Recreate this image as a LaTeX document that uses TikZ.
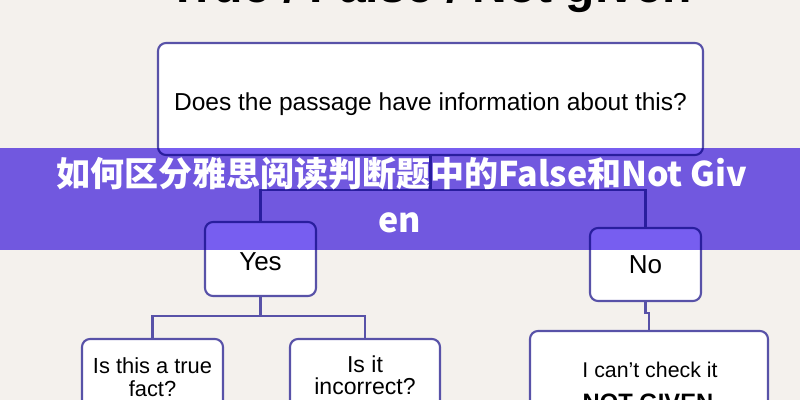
\documentclass[tikz,border=0pt]{standalone}
\usepackage{fontspec}
\setmainfont{Liberation Sans}
\newfontfamily\cjk{Noto Sans CJK SC}
\usetikzlibrary{fit}
\definecolor{bgc}{HTML}{F4F1ED}
\definecolor{linec}{HTML}{5852A8}
\definecolor{bannerc}{HTML}{775EF0}
\begin{document}
\begin{tikzpicture}[x=0.75pt,y=-0.75pt,
  box/.style={draw=linec, line width=1.6pt, rounded corners=6pt, fill=white, inner sep=0pt},
  conn/.style={draw=linec, line width=1.6pt},
  lbl/.style={text=black, inner sep=0pt, anchor=base}]
\useasboundingbox (0,0) rectangle (800,400);
\clip (0,0) rectangle (800,400);
\fill[bgc] (0,0) rectangle (800,400);
% title (cut off at top)
\node[lbl, font=\bfseries\fontsize{36}{40}\selectfont] (title) at (430,2.5) {True / False / Not given};
% boxes
\node[box, fit={(158,43) (703,155)}] (main) {};
\node[box, fit={(205,222) (316,296)}] (yes) {};
\node[box, fit={(590,228) (701,301)}] (no) {};
\node[box, fit={(82,339) (223,440)}] (a) {};
\node[box, fit={(290,339) (440,440)}] (b) {};
\node[box, fit={(530,331) (768,440)}] (c) {};
% connectors
\coordinate (j1) at (430.5,190);
\draw[conn] (main.south) -- (j1);
\draw[conn] (yes.north) |- (j1) -| (no.north);
\coordinate (j2) at (260.5,316);
\draw[conn] (yes.south) -- (j2);
\draw[conn] (a.north) |- (j2) -| (b.north);
\coordinate (j3) at (645.5,313);
\draw[conn] (no.south) -- (j3) -| (c.north);
% texts
\node[lbl, font=\fontsize{18.4}{22}\selectfont] (maint) at (430.5,110) {Does the passage have information about this?};
\node[lbl, font=\fontsize{19.5}{22}\selectfont] (yest) at (260.5,270) {Yes};
\node[lbl, font=\fontsize{19.5}{22}\selectfont] (not) at (645.5,273) {No};
\node[lbl, font=\fontsize{16.4}{20}\selectfont] (at1) at (152.5,373) {Is this a true};
\node[lbl, font=\fontsize{16.4}{20}\selectfont] (at2) at (152.5,396) {fact?};
\node[lbl, font=\fontsize{17.3}{20}\selectfont] (bt1) at (365,372) {Is it};
\node[lbl, font=\fontsize{17.3}{20}\selectfont] (bt2) at (365,394) {incorrect?};
\node[lbl, font=\fontsize{16}{20}\selectfont] (ct1) at (650,377) {I can’t check it};
\node[lbl, font=\bfseries\fontsize{17.8}{20}\selectfont] (ct2) at (648,410) {NOT GIVEN};
% banner
\fill[bannerc, blend mode=multiply] (0,148) rectangle (800,250);
\node[lbl, text=white, font=\cjk\bfseries\fontsize{25.5}{28}\selectfont] (ban1) at (402,186) {如何区分雅思阅读判断题中的False和Not Giv};
\node[lbl, text=white, font=\cjk\bfseries\fontsize{25.5}{28}\selectfont] (ban2) at (400,232) {en};
\end{tikzpicture}
\end{document}
